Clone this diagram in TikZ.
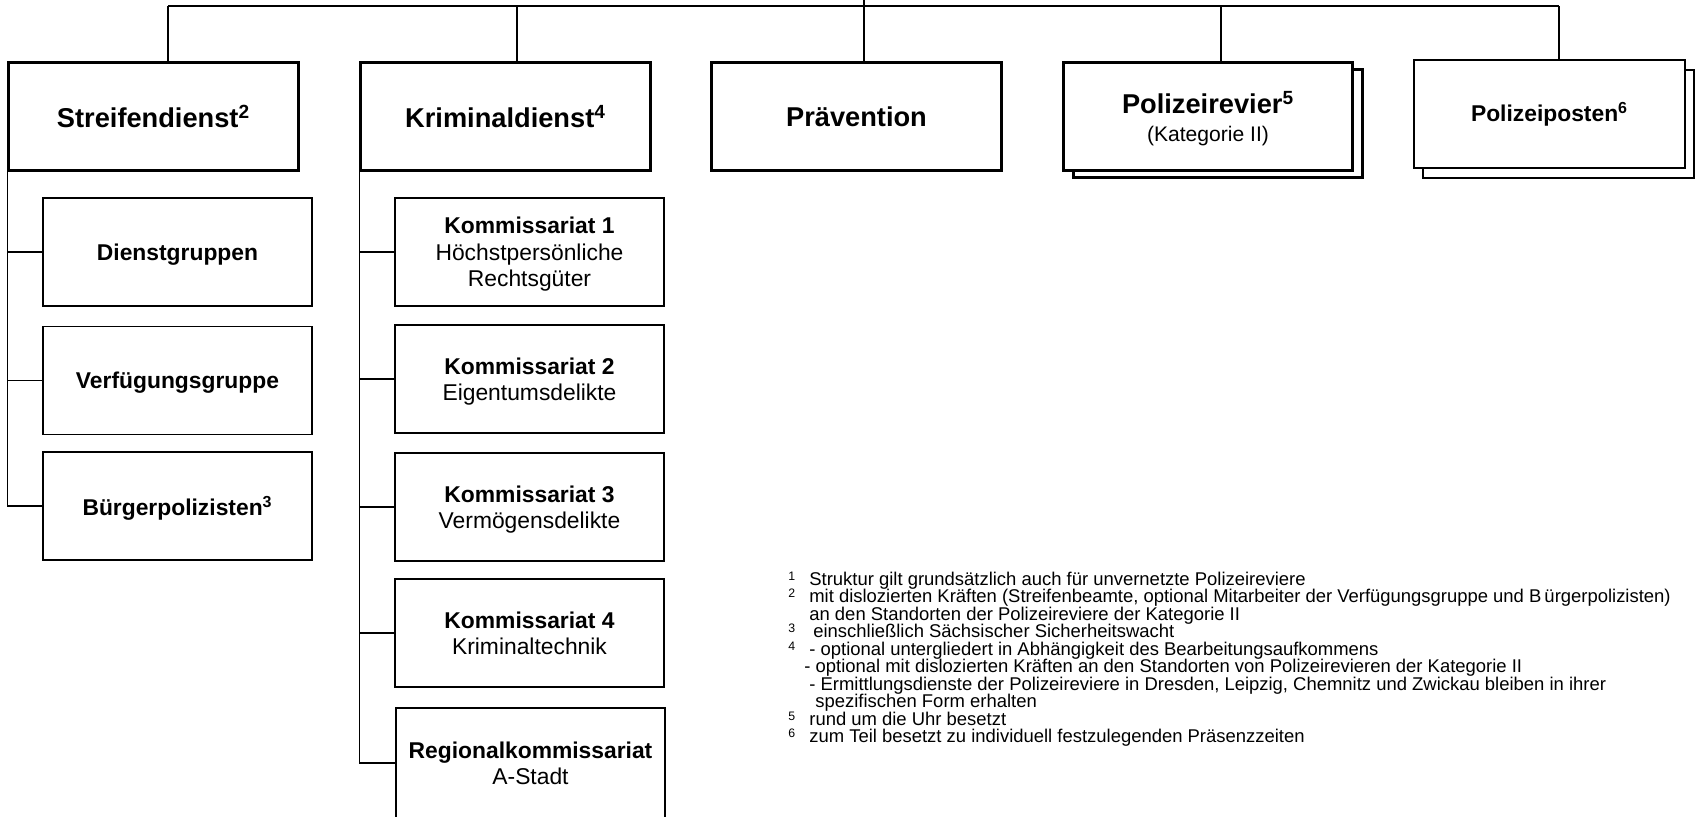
\documentclass[tikz,border=0pt]{standalone}
\usepackage{fontspec}
\setmainfont{Liberation Sans}
\usetikzlibrary{shadows}
\tikzset{
  unit/.style={draw, line width=1.7pt, fill=white, minimum width=5.8cm, minimum height=2.16cm, inner sep=0pt, align=center, font=\fontsize{15.5}{18.6}\selectfont\bfseries},
  subunit/.style={draw, line width=1.1pt, fill=white, minimum width=5.38cm, minimum height=2.16cm, inner sep=0pt, text depth=0pt, align=center, font=\fontsize{13}{15}\selectfont},
  link/.style={line width=0.6pt},
  fnline/.style={anchor=base west, inner sep=0pt, font=\fontsize{10.5}{12.6}\selectfont},
  fnmark/.style={anchor=base west, inner sep=0pt, font=\fontsize{7}{8}\selectfont},
}
\begin{document}
\begin{tikzpicture}[x=0.02cm, y=-0.02cm]
\useasboundingbox (0,0) rectangle (1697,816);
% main units
\node[unit] (S) at (153.5,116.5) {Streifendienst\textsuperscript{2}};
\node[unit] (K) at (505.5,116.5) {Kriminaldienst\textsuperscript{4}};
\node[unit] (P) at (856.5,116.5) {Prävention};
\node[unit, text depth=0pt, copy shadow={shadow xshift=0.2cm, shadow yshift=-0.14cm}] (R) at (1208,116.5) {Polizeirevier\textsuperscript{5}\\[-3pt]{\normalfont\fontsize{12}{14}\selectfont (Kategorie II)}};
\node[unit, line width=1pt, minimum width=5.42cm, font=\fontsize{13}{15.6}\selectfont\bfseries, copy shadow={shadow xshift=0.18cm, shadow yshift=-0.2cm}] (PP) at (1549.5,114) {Polizeiposten\textsuperscript{6}};
% top bar
\coordinate (top) at (864,0);
\coordinate (T_S) at (168,6);
\coordinate (T_K) at (517,6);
\coordinate (T_R) at (1221,6);
\coordinate (T_PP) at (1559,6);
\draw[link] (T_S) -- (T_PP);
\draw[link] (T_S) -- (T_S |- S.north);
\draw[link] (T_K) -- (T_K |- K.north);
\draw[link] (top) -- (top |- P.north);
\draw[link] (T_R) -- (T_R |- R.north);
\draw[link] (T_PP) -- (T_PP |- PP.north);
% Streifendienst
\node[subunit] (S_1) at (177.5,252) {\textbf{Dienstgruppen}};
\node[subunit] (S_2) at (177.5,380.5) {\textbf{Verfügungsgruppe}};
\node[subunit] (S_3) at (177.5,506) {\textbf{Bürgerpolizisten\textsuperscript{3}}};
\draw[link] (S.south west) |- (S_1.west);
\draw[link] (S.south west) |- (S_2.west);
\draw[link] (S.south west) |- (S_3.west);
% Kriminaldienst
\node[subunit] (K_1) at (529.5,252) {\textbf{Kommissariat 1}\\Höchstpersönliche\\Rechtsgüter};
\node[subunit] (K_2) at (529.5,379) {\textbf{Kommissariat 2}\\Eigentumsdelikte};
\node[subunit] (K_3) at (529.5,507) {\textbf{Kommissariat 3}\\Vermögensdelikte};
\node[subunit] (K_4) at (529.5,633) {\textbf{Kommissariat 4}\\Kriminaltechnik};
\node[subunit, minimum height=2.2cm] (K_5) at (530.5,763) {\textbf{Regionalkommissariat}\\A-Stadt};
\draw[link] (K.south west) |- (K_1.west);
\draw[link] (K.south west) |- (K_2.west);
\draw[link] (K.south west) |- (K_3.west);
\draw[link] (K.south west) |- (K_4.west);
\draw[link] (K.south west) |- (K_5.west);
% footnotes
\node[fnmark] (M_1) at (788,580) {1};
\node[fnline] (F_1) at (809,585) {Struktur gilt grundsätzlich auch für unvernetzte Polizeireviere};
\node[fnmark] (M_2) at (788,597.5) {2};
\node[fnline] (F_2) at (809,602.5) {mit dislozierten Kräften (Streifenbeamte, optional Mitarbeiter der Verfügungsgruppe und B\,ürgerpolizisten)};
\node[fnline] (F_3) at (809,620) {an den Standorten der Polizeireviere der Kategorie II};
\node[fnmark] (M_3) at (788,632.5) {3};
\node[fnline] (F_4) at (813,637.5) {einschließlich Sächsischer Sicherheitswacht};
\node[fnmark] (M_4) at (788,650) {4};
\node[fnline] (F_5) at (809,655) {- optional untergliedert in Abhängigkeit des Bearbeitungsaufkommens};
\node[fnline] (F_6) at (804,672.5) {- optional mit dislozierten Kräften an den Standorten von Polizeirevieren der Kategorie II};
\node[fnline] (F_7) at (809,690) {- Ermittlungsdienste der Polizeireviere in Dresden, Leipzig, Chemnitz und Zwickau bleiben in ihrer};
\node[fnline] (F_8) at (815,707.5) {spezifischen Form erhalten};
\node[fnmark] (M_5) at (788,720) {5};
\node[fnline] (F_9) at (809,725) {rund um die Uhr besetzt};
\node[fnmark] (M_6) at (788,737.5) {6};
\node[fnline] (F_10) at (809,742.5) {zum Teil besetzt zu individuell festzulegenden Präsenzzeiten};
\end{tikzpicture}
\end{document}
